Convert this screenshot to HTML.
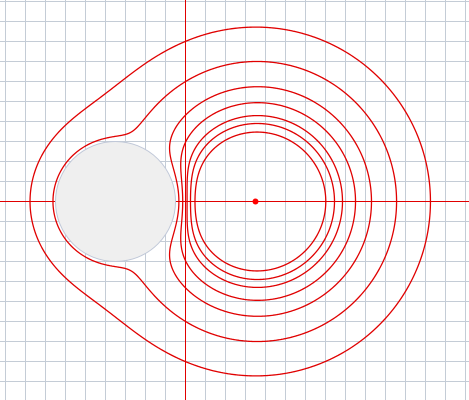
<!DOCTYPE html>
<html><head><meta charset="utf-8"><style>
html,body{margin:0;padding:0;background:#fff;}
svg{display:block;}
</style></head><body>
<svg id="chart" width="469" height="400" viewBox="0 0 469 400" xmlns="http://www.w3.org/2000/svg">
<g id="grid"></g>
<g id="contours"></g>
<line x1="0" y1="201.5" x2="469" y2="201.5" stroke="#e00000" stroke-width="1"/>
<line x1="185.5" y1="0" x2="185.5" y2="400" stroke="#e00000" stroke-width="1"/>
<circle id="sphere" fill="#efefef" stroke="#c0c8d8" stroke-width="1"/>
<circle id="charge" r="3" fill="#ff0000"/>
</svg>
<script>
// physical setup (units)
const chargePos = [3.5, 0];
const chargeQ = [1];
const sphereCenter = [-3.5, 0];
const sphereRadius = [3];
// contour levels (potential values)
const levels = [0.2789, 0.2480, 0.2251, 0.1957, 0.1687, 0.1387, 0.1119];

const W = 469, H = 400, OX = 185.5, OY = 201.5, S = 20;
const sx = u => OX + u * S, sy = v => OY - v * S;
const ux = px => (px - OX) / S, uy = py => (OY - py) / S;

const NS = 'http://www.w3.org/2000/svg';
const grid = document.getElementById('grid');
for (let x = 5.5; x < W; x += 20) {
  const l = document.createElementNS(NS, 'line');
  
  
  l.setAttribute('x1', x); l.setAttribute('x2', x); l.setAttribute('y1', 0); l.setAttribute('y2', H);
  l.setAttribute('stroke', '#c4ccd6'); l.setAttribute('stroke-width', '1');
  grid.appendChild(l);
}
for (let y = 1.5; y < H; y += 20) {
  const l = document.createElementNS(NS, 'line');
  
  
  l.setAttribute('y1', y); l.setAttribute('y2', y); l.setAttribute('x1', 0); l.setAttribute('x2', W);
  l.setAttribute('stroke', '#c4ccd6'); l.setAttribute('stroke-width', '1');
  grid.appendChild(l);
}

const q = chargeQ[0], R = sphereRadius[0];
const cx = sphereCenter[0], cy = sphereCenter[1];
const d = Math.hypot(chargePos[0] - cx, chargePos[1] - cy);
const qi = -q * R / d;
const dirx = (chargePos[0] - cx) / d, diry = (chargePos[1] - cy) / d;
const ix = cx + dirx * R * R / d, iy = cy + diry * R * R / d;
function V(x, y) {
  if (Math.hypot(x - cx, y - cy) < R) return NaN;
  return q / Math.hypot(x - chargePos[0], y - chargePos[1])
       + qi / Math.hypot(x - ix, y - iy)
       - qi / Math.hypot(x - cx, y - cy);
}

const step = 1;
const nx = Math.ceil(W / step) + 1, ny = Math.ceil(H / step) + 1;
const F = [];
for (let j = 0; j < ny; j++) {
  const row = new Float64Array(nx);
  for (let i = 0; i < nx; i++) row[i] = V(ux(i * step), uy(j * step));
  F.push(row);
}
const cont = document.getElementById('contours');
levels.forEach((lv, k) => {
  let dstr = '';
  for (let j = 0; j < ny - 1; j++) for (let i = 0; i < nx - 1; i++) {
    const a = F[j][i], b = F[j][i + 1], c = F[j + 1][i + 1], e = F[j + 1][i];
    if (isNaN(a) || isNaN(b) || isNaN(c) || isNaN(e)) continue;
    const pts = [];
    const x0 = i * step, y0 = j * step;
    if ((a - lv) * (b - lv) < 0) pts.push([x0 + step * (lv - a) / (b - a), y0]);
    if ((b - lv) * (c - lv) < 0) pts.push([x0 + step, y0 + step * (lv - b) / (c - b)]);
    if ((e - lv) * (c - lv) < 0) pts.push([x0 + step * (lv - e) / (c - e), y0 + step]);
    if ((a - lv) * (e - lv) < 0) pts.push([x0, y0 + step * (lv - a) / (e - a)]);
    for (let m = 0; m + 1 < pts.length; m += 2)
      dstr += 'M' + pts[m][0].toFixed(2) + ' ' + pts[m][1].toFixed(2) + 'L' + pts[m + 1][0].toFixed(2) + ' ' + pts[m + 1][1].toFixed(2);
  }
  const p = document.createElementNS(NS, 'path');
  
  
  p.setAttribute('d', dstr);
  p.setAttribute('fill', 'none');
  p.setAttribute('stroke', '#e00000');
  p.setAttribute('stroke-width', '1.3');
  p.setAttribute('stroke-linecap', 'round');
  cont.appendChild(p);
});

const sp = document.getElementById('sphere');
sp.setAttribute('cx', sx(cx)); sp.setAttribute('cy', sy(cy)); sp.setAttribute('r', R * S);
const ch = document.getElementById('charge');
ch.setAttribute('cx', sx(chargePos[0])); ch.setAttribute('cy', sy(chargePos[1]));
</script>
</body></html>
